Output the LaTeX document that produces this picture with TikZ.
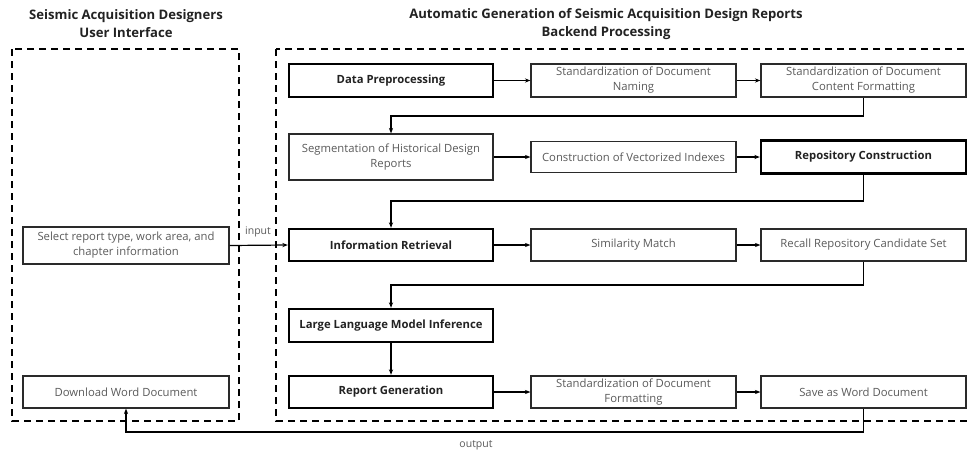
\documentclass[tikz,border=0pt]{standalone}
\usepackage{fontspec}
\setmainfont{Open Sans}
\usetikzlibrary{arrows.meta}
\definecolor{txtgray}{HTML}{5A5A5A}
\definecolor{txtdark}{HTML}{222222}
\definecolor{linedark}{HTML}{2A2A2A}
\tikzset{
  stepbox/.style={draw=linedark, line width=1.2pt, inner sep=0pt, align=center,
    text=txtgray, font=\fontsize{11.3}{15}\selectfont},
  keybox/.style={draw=black, line width=2.4pt, inner sep=0pt, align=center,
    text=txtdark, font=\bfseries\fontsize{11.3}{15}\selectfont},
  flow/.style={draw=black, line width=1.2pt, -{Stealth[length=5.5pt,width=4.2pt]}},
  region/.style={draw=black, line width=1.6pt, dash pattern=on 7pt off 5pt},
  heading/.style={align=center, text=txtdark, font=\bfseries\fontsize{13.1}{18}\selectfont},
  tag/.style={text=txtgray, font=\fontsize{10.5}{12}\selectfont, inner sep=0pt},
}
\begin{document}
\begin{tikzpicture}[x=1pt,y=-1pt]
\useasboundingbox (0,0) rectangle (969,453);
\clip (0,0) rectangle (969,453);

% panel frames
\draw[region] (12,49) rectangle (239,421);
\draw[region] (276,49) rectangle (980,421);

% panel headings
\node[heading] (uihead) at (126,24) {Seismic Acquisition Designers\\User Interface};
\node[heading] (bkhead) at (606,24) {Automatic Generation of Seismic Acquisition Design Reports\\Backend Processing};

% user interface
\node[stepbox, minimum width=206pt, minimum height=37pt] (sel) at (126,245.5) {Select report type, work area, and\\chapter information};
\node[stepbox, minimum width=206pt, minimum height=32pt] (dl) at (126,392) {Download Word Document};

% row 1
\node[keybox, minimum width=204pt, minimum height=33pt] (dp) at (391,80.5) {Data Preprocessing};
\node[stepbox, minimum width=205pt, minimum height=33pt] (sn) at (633.5,80.5) {Standardization of Document\\Naming};
\node[stepbox, minimum width=205pt, minimum height=33pt] (scf) at (863.5,80.5) {Standardization of Document\\Content Formatting};

% row 2
\node[stepbox, minimum width=204pt, minimum height=46pt] (seg) at (391,157) {Segmentation of Historical Design\\Reports};
\node[stepbox, minimum width=205pt, minimum height=31pt] (cvi) at (633.5,157) {Construction of Vectorized Indexes};
\node[keybox, minimum width=205pt, minimum height=33pt] (rc) at (863.5,157) {Repository Construction};

% row 3
\node[keybox, minimum width=204pt, minimum height=32pt] (ir) at (391,245) {Information Retrieval};
\node[stepbox, minimum width=205pt, minimum height=32pt] (sm) at (633.5,245) {Similarity Match};
\node[stepbox, minimum width=205pt, minimum height=32pt] (rr) at (863.5,245) {Recall Repository Candidate Set};

% rows 4 and 5
\node[keybox, minimum width=204pt, minimum height=33pt] (llm) at (391,325.5) {Large Language Model Inference};
\node[keybox, minimum width=204pt, minimum height=32pt] (rg) at (391,392) {Report Generation};
\node[stepbox, minimum width=205pt, minimum height=32pt] (sdf) at (633.5,392) {Standardization of Document\\Formatting};
\node[stepbox, minimum width=205pt, minimum height=32pt] (sw) at (863.5,392) {Save as Word Document};

% connectors
\draw[flow] (dp) -- (sn);
\draw[flow] (sn) -- (scf);
\draw[flow] (scf.south) |- (391,116) -- (seg.north);
\draw[flow] (seg) -- (cvi);
\draw[flow] (cvi) -- (rc);
\draw[flow] (rc.south) |- (391,201) -- (ir.north);
\draw[flow] (sel.east) -- (ir.west);
\draw[flow] (ir) -- (sm);
\draw[flow] (sm) -- (rr);
\draw[flow] (rr.south) |- (391,285) -- (llm.north);
\draw[flow] (llm) -- (rg);
\draw[flow] (rg) -- (sdf);
\draw[flow] (sdf) -- (sw);
\draw[flow] (sw.south) |- (126,432) -- (dl.south);

% connector labels
\node[tag] (inlbl) at (258,232) {input};
\node[tag] (outlbl) at (476,445) {output};
\end{tikzpicture}
\end{document}
